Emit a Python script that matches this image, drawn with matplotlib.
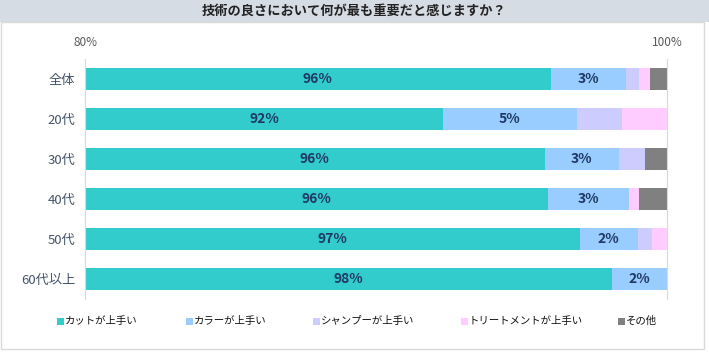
import matplotlib
matplotlib.use("Agg")
import matplotlib.pyplot as plt
from matplotlib.patches import Rectangle

plt.rcParams['font.family'] = ['Noto Sans CJK JP', 'DejaVu Sans']

# データ (%)
categories = ['全体', '20代', '30代', '40代', '50代', '60代以上']
series_names = ['カットが上手い', 'カラーが上手い', 'シャンプーが上手い', 'トリートメントが上手い', 'その他']
cut = [96.0, 92.3, 95.8, 95.9, 97.0, 98.1]
color = [2.6, 4.6, 2.55, 2.8, 2.0, 1.9]
shampoo = [0.45, 1.55, 0.9, 0.0, 0.5, 0.0]
treatment = [0.35, 1.55, 0.0, 0.35, 0.5, 0.0]
other = [0.6, 0.0, 0.75, 0.95, 0.0, 0.0]
colors = ['#33CCCC', '#99CCFF', '#CCCCFF', '#FFCCFF', '#808080']

W, H = 709, 357
fig = plt.figure(figsize=(W / 100, H / 100), dpi=100)

# タイトル帯と枠
fig.patches.append(Rectangle((0, 1 - 22 / H), 1, 22 / H, transform=fig.transFigure,
                             facecolor='#D6DCE4', edgecolor='none', zorder=0))
fig.patches.append(Rectangle((0.5 / W, 8 / H), 703 / W, (349 - 22) / H, transform=fig.transFigure,
                             facecolor='none', edgecolor='#D9D9D9', lw=1, zorder=0))
fig.text(354 / W, 1 - 11 / H, '技術の良さにおいて何が最も重要だと感じますか？',
         ha='center', va='center', fontsize=9.5, fontweight='bold', color='#222222')

ax = fig.add_axes([85 / W, 1 - 299 / H, (667 - 85) / W, 240 / H])
y = list(range(len(categories)))
left = [0.0] * len(categories)
for name, vals, c in zip(series_names, [cut, color, shampoo, treatment, other], colors):
    ax.barh(y, vals, left=left, height=0.55, color=c, label=name, edgecolor='none')
    left = [l + v for l, v in zip(left, vals)]

for i in y:
    ax.text((80 + cut[i]) / 2, i, f"{int(cut[i] + 0.5)}%", ha='center', va='center',
            fontsize=10, fontweight='bold', color='#203864')
    ax.text(cut[i] + color[i] / 2, i, f"{int(color[i] + 0.5)}%", ha='center', va='center',
            fontsize=10, fontweight='bold', color='#203864')

ax.set_xlim(80, 100)
ax.set_ylim(len(categories) - 0.5, -0.5)
ax.set_yticks(y)
ax.set_yticklabels(categories, fontsize=9.5, color='#44546A')
ax.set_xticks([80, 100])
ax.set_xticklabels(['80%', '100%'], fontsize=8.5, color='#595959')
ax.xaxis.tick_top()
ax.tick_params(axis='both', length=0)
ax.tick_params(axis='x', pad=7)
ax.tick_params(axis='y', pad=7)
for s in ['top', 'bottom']:
    ax.spines[s].set_visible(False)
for s in ['left', 'right']:
    ax.spines[s].set_color('#D9D9D9')

# 凡例 (手動配置)
legend_x = [57, 186, 313, 461, 618]
ly = 1 - 321 / H
for x0, name, c in zip(legend_x, series_names, colors):
    fig.patches.append(Rectangle((x0 / W, ly - 3.5 / H), 7 / W, 7 / H, transform=fig.transFigure,
                                 facecolor=c, edgecolor='none'))
    fig.text((x0 + 8) / W, ly, name, ha='left', va='center', fontsize=7.5, color='#111111')

fig.savefig('out.png', dpi=100)
